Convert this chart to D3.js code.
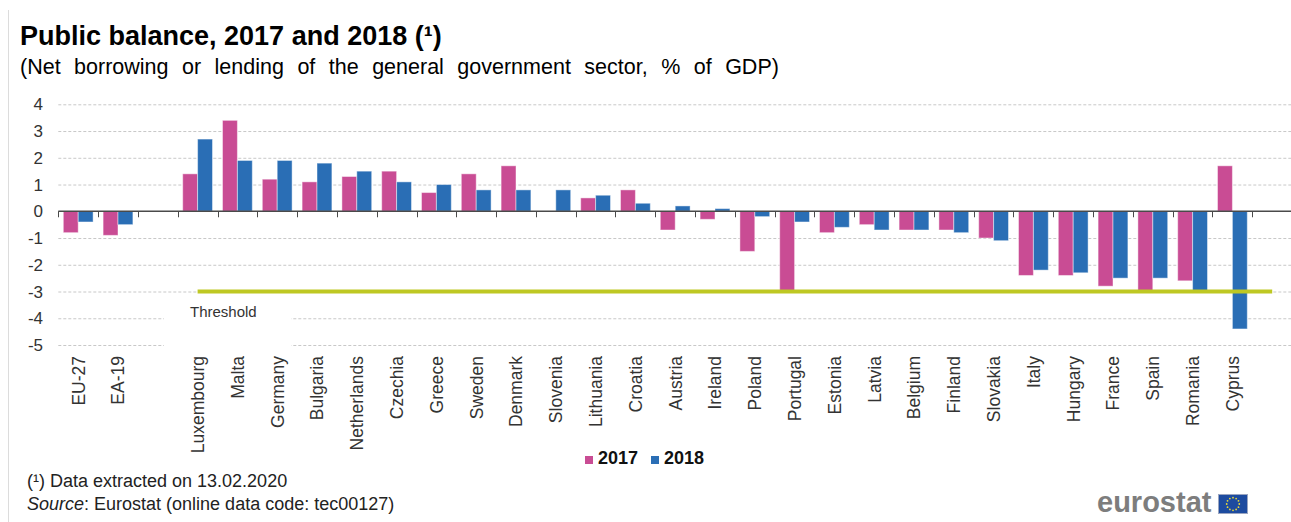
<!DOCTYPE html>
<html>
<head>
<meta charset="utf-8">
<script src="https://cdn.jsdelivr.net/npm/d3@7"></script>
<style>
  body { margin: 0; background: #fff; }
  text { font-family: "Liberation Sans", Arial, sans-serif; }
</style>
</head>
<body>
<div id="chart"></div>
<script>
// Public balance 2017 / 2018, % of GDP
const categories = ["EU-27", "EA-19", "", "Luxembourg", "Malta", "Germany", "Bulgaria", "Netherlands",
    "Czechia", "Greece", "Sweden", "Denmark", "Slovenia", "Lithuania", "Croatia", "Austria", "Ireland",
    "Poland", "Portugal", "Estonia", "Latvia", "Belgium", "Finland", "Slovakia", "Italy", "Hungary",
    "France", "Spain", "Romania", "Cyprus", ""];
const values2017 = [-0.8, -0.9, null, 1.4, 3.4, 1.2, 1.1, 1.3, 1.5, 0.7, 1.4, 1.7, 0.0, 0.5, 0.8, -0.7, -0.3,
    -1.5, -3.0, -0.8, -0.5, -0.7, -0.7, -1.0, -2.4, -2.4, -2.8, -3.0, -2.6, 1.7, null];
const values2018 = [-0.4, -0.5, null, 2.7, 1.9, 1.9, 1.8, 1.5, 1.1, 1.0, 0.8, 0.8, 0.8, 0.6, 0.3, 0.2, 0.1,
    -0.2, -0.4, -0.6, -0.7, -0.7, -0.8, -1.1, -2.2, -2.3, -2.5, -2.5, -3.0, -4.4, null];
const seriesNames = ["2017", "2018"];
const yTicks = [4, 3, 2, 1, 0, -1, -2, -3, -4, -5];
const thresholdValue = -3;
const thresholdFrom = 3, thresholdTo = 30;   // category indexes

const colors = { "2017": "#c94c94", "2018": "#2a6eb5" };

const width = 1291, height = 522;
const margin = { top: 104.3, left: 58.3, bottom: 177 };

const svg = d3.select("#chart")
    .append("svg")
    .attr("width", width)
    .attr("height", height);

svg.append("rect").attr("width", width).attr("height", height).attr("fill", "#fff");

// thin frame on the left
svg.append("line")
    .attr("x1", 8.5).attr("x2", 8.5).attr("y1", 10).attr("y2", height)
    .attr("stroke", "#dcdcdc");

const x = d3.scaleBand()
    .domain(d3.range(categories.length))
    .range([margin.left, margin.left + 39.8 * categories.length]);

const x1 = d3.scaleBand()
    .domain(seriesNames)
    .range([5, x.bandwidth() - 5]);

const y = d3.scaleLinear()
    .domain([-5, 4])
    .range([345, margin.top]);

// gridlines
svg.append("g")
    .selectAll("line")
    .data(yTicks.filter(d => d !== 0))
    .enter().append("line")
    .attr("x1", margin.left).attr("x2", width)
    .attr("y1", d => y(d) + 0.5).attr("y2", d => y(d) + 0.5)
    .attr("stroke", "#c8c8c8")
    .attr("stroke-dasharray", "3,2");

// y labels
svg.append("g")
    .selectAll("text")
    .data(yTicks)
    .enter().append("text")
    .attr("x", 43)
    .attr("y", d => y(d))
    .attr("dy", "0.36em")
    .attr("text-anchor", "end")
    .attr("font-size", 17)
    .attr("fill", "#333")
    .text(d => d);

// bars
const rows = categories.map((c, i) => ({ i: i, "2017": values2017[i], "2018": values2018[i] }));

svg.append("g")
    .selectAll("g")
    .data(rows)
    .enter().append("g")
    .attr("transform", d => `translate(${x(d.i)},0)`)
    .selectAll("rect")
    .data(d => seriesNames.map(s => ({ s: s, v: d[s] })).filter(e => e.v !== null && e.v !== 0))
    .enter().append("rect")
    .attr("x", d => x1(d.s))
    .attr("width", x1.bandwidth())
    .attr("y", d => y(Math.max(0, d.v)))
    .attr("height", d => Math.abs(y(d.v) - y(0)))
    .attr("fill", d => colors[d.s])
    .attr("stroke", "rgba(255,255,255,0.45)")
    .attr("stroke-width", 1);

// zero axis with ticks
svg.append("line")
    .attr("x1", margin.left).attr("x2", width)
    .attr("y1", y(0)).attr("y2", y(0))
    .attr("stroke", "#4a4a4a")
    .attr("stroke-width", 1.5);

svg.append("g")
    .selectAll("line")
    .data(d3.range(categories.length))
    .enter().append("line")
    .attr("x1", d => Math.round(x(d)) + 0.5).attr("x2", d => Math.round(x(d)) + 0.5)
    .attr("y1", y(0)).attr("y2", y(0) + 6)
    .attr("stroke", "#4a4a4a");

// threshold label box (hides the gridlines behind it)
svg.append("rect")
    .attr("x", 164).attr("y", y(-3) + 5)
    .attr("width", 127).attr("height", 60)
    .attr("fill", "#fff");

svg.append("text")
    .attr("x", 190).attr("y", 317)
    .attr("font-size", 15)
    .attr("fill", "#333")
    .text("Threshold");

// threshold line
svg.append("line")
    .attr("x1", x(thresholdFrom) + x.bandwidth() / 2)
    .attr("x2", x(thresholdTo) + x.bandwidth() / 2)
    .attr("y1", y(thresholdValue)).attr("y2", y(thresholdValue))
    .attr("stroke", "#bec823")
    .attr("stroke-width", 4);

// category labels
svg.append("g")
    .selectAll("text")
    .data(categories)
    .enter().append("text")
    .attr("transform", (d, i) => `translate(${x(i) + x.bandwidth() / 2},356) rotate(-90)`)
    .attr("dy", "0.36em")
    .attr("text-anchor", "end")
    .attr("font-size", 17.5)
    .attr("fill", "#333")
    .text(d => d);

// legend
const legend = svg.append("g")
    .selectAll("g")
    .data(seriesNames)
    .enter().append("g")
    .attr("transform", (d, i) => `translate(${585 + i * 66},0)`);

legend.append("rect")
    .attr("y", 456).attr("width", 8).attr("height", 8)
    .attr("fill", d => colors[d]);

legend.append("text")
    .attr("x", 13).attr("y", 464)
    .attr("font-size", 18)
    .attr("font-weight", "bold")
    .attr("fill", "#111")
    .text(d => d);

// titles
svg.append("text")
    .attr("x", 20).attr("y", 45)
    .attr("font-size", 27)
    .attr("font-weight", "bold")
    .attr("fill", "#000")
    .text("Public balance, 2017 and 2018 (\u00b9)");

svg.append("text")
    .attr("x", 20).attr("y", 74)
    .attr("font-size", 21.5)
    .attr("word-spacing", 7.5)
    .attr("fill", "#000")
    .text("(Net borrowing or lending of the general government sector, % of GDP)");

// footer
svg.append("text")
    .attr("x", 27).attr("y", 487)
    .attr("font-size", 18)
    .attr("fill", "#222")
    .text("(\u00b9) Data extracted on 13.02.2020");

const src = svg.append("text")
    .attr("x", 27).attr("y", 510)
    .attr("font-size", 18)
    .attr("fill", "#222");
src.append("tspan").attr("font-style", "italic").text("Source");
src.append("tspan").text(": Eurostat (online data code: tec00127)");

// eurostat logo
svg.append("text")
    .attr("x", 1097).attr("y", 512)
    .attr("font-size", 29)
    .attr("font-weight", "bold")
    .attr("fill", "#7d7d7d")
    .text("eurostat");

svg.append("rect")
    .attr("x", 1218.5).attr("y", 494.5)
    .attr("width", 29).attr("height", 19)
    .attr("fill", "#1d4b9f")
    .attr("stroke", "#9aa5c0");

svg.append("g")
    .selectAll("circle")
    .data(d3.range(12))
    .enter().append("circle")
    .attr("cx", d => 1233 + 6.3 * Math.cos(d * Math.PI / 6))
    .attr("cy", d => 504 + 6.3 * Math.sin(d * Math.PI / 6))
    .attr("r", 0.9)
    .attr("fill", "#e8d83a");
</script>
</body>
</html>
